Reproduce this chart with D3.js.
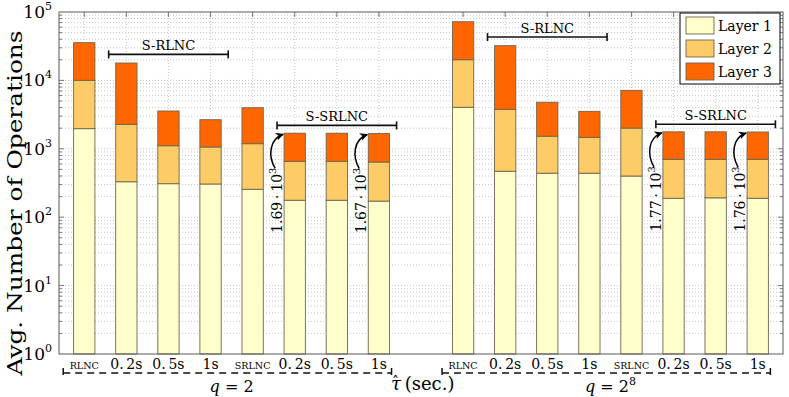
<!DOCTYPE html>
<html>
<head>
<meta charset="utf-8">
<script src="https://cdn.jsdelivr.net/npm/d3@7"></script>
<style>
  body { margin: 0; background: #fff; }
</style>
</head>
<body>
<div id="content"></div>
<script>
// x tick labels, same for both field sizes
const categories = ["RLNC", "0.2s", "0.5s", "1s", "SRLNC", "0.2s", "0.5s", "1s"];
const groupNames = ["2", "2^8"];
const layerNames = ["Layer 1", "Layer 2", "Layer 3"];
const layerColors = ["#ffffcc", "#fecc66", "#ff6600"];

// avg number of operations per layer, q = 2
const layer1_q2 = [1970, 330, 309, 306, 256, 177, 177, 172];
const layer2_q2 = [8060, 1950, 800, 757, 932, 479, 479, 469];
const layer3_q2 = [25600, 15680, 2460, 1600, 2800, 1034, 1034, 1029];

// avg number of operations per layer, q = 2^8
const layer1_q28 = [4050, 470, 440, 440, 400, 189, 192, 189];
const layer2_q28 = [16000, 3300, 1090, 1030, 1610, 513, 510, 513];
const layer3_q28 = [52000, 28400, 3260, 2060, 5150, 1068, 1068, 1058];

const yTickExps = [0, 1, 2, 3, 4, 5];

// bars that get a "x.xx·10^3" note (index into categories)
const notedBars = [5, 7];

const FONT = "'DejaVu Serif', serif";

window.onload = function() {
  drawChart();
};

function drawChart() {
  let width = 789, height = 397;
  let svg = d3.select("#content").append("svg")
    .attr("width", width)
    .attr("height", height)
    .attr("font-family", FONT)
    .style("font-family", FONT);

  let left = 59, right = 783, top = 12, bottom = 354;
  let x = d3.scaleLinear().domain([0.4, 17.6]).range([left, right]);
  let y = d3.scaleLog().domain([1, 1e5]).range([bottom, top]);
  let hw = 0.253; // half bar width in slot units

  let groups = [
    [layer1_q2, layer2_q2, layer3_q2],
    [layer1_q28, layer2_q28, layer3_q28]
  ];
  // slot position of each bar (one empty slot between the groups)
  function pos(g, i) { return g * 9 + i + 1; }
  let positions = [];
  groups.forEach((_, g) => categories.forEach((c, i) => positions.push(pos(g, i))));

  // grid
  let grid = svg.append("g");
  let minorVals = [];
  for (let d = 0; d < 5; d++) {
    for (let m = 1; m < 10; m++) {
      let v = m * Math.pow(10, d);
      if (v > 1) minorVals.push(v);
    }
  }
  grid.selectAll("line.h").data(minorVals).enter().append("line")
    .attr("x1", left).attr("x2", right)
    .attr("y1", d => y(d)).attr("y2", d => y(d))
    .style("stroke", "#b8b8b8").style("stroke-width", 0.8)
    .style("stroke-dasharray", "1,2");
  grid.selectAll("line.v").data(positions).enter().append("line")
    .attr("x1", d => x(d)).attr("x2", d => x(d))
    .attr("y1", top).attr("y2", bottom)
    .style("stroke", "#b8b8b8").style("stroke-width", 0.8)
    .style("stroke-dasharray", "1,2");

  // stacked bars
  let bars = svg.append("g");
  groups.forEach(function(layers, g) {
    categories.forEach(function(c, i) {
      let base = 1;
      layers.forEach(function(layer, k) {
        let topVal = (k == 0 ? 0 : base) + layer[i];
        bars.append("rect")
          .attr("x", x(pos(g, i) - hw))
          .attr("width", x(pos(g, i) + hw) - x(pos(g, i) - hw))
          .attr("y", y(topVal))
          .attr("height", y(base) - y(topVal))
          .style("fill", layerColors[k])
          .style("stroke", "#6e6550")
          .style("stroke-width", 0.9);
        base = topVal;
      });
    });
  });

  // axis box and ticks
  let ax = svg.append("g").style("stroke", "#5a5a5a");
  ax.append("rect")
    .attr("x", left).attr("y", top)
    .attr("width", right - left).attr("height", bottom - top)
    .style("fill", "none").style("stroke-width", 1);
  minorVals.forEach(function(v) {
    let major = Math.abs(Math.log10(v) - Math.round(Math.log10(v))) < 1e-9;
    let len = major ? 5 : 3;
    ax.append("line").attr("x1", left).attr("x2", left + len)
      .attr("y1", y(v)).attr("y2", y(v)).style("stroke-width", 0.8);
    ax.append("line").attr("x1", right).attr("x2", right - len)
      .attr("y1", y(v)).attr("y2", y(v)).style("stroke-width", 0.8);
  });
  positions.forEach(function(p) {
    ax.append("line").attr("x1", x(p)).attr("x2", x(p))
      .attr("y1", top).attr("y2", top + 5).style("stroke-width", 0.8);
  });

  // y tick labels
  yTickExps.forEach(function(e) {
    let t = svg.append("text")
      .attr("x", 52).attr("y", y(Math.pow(10, e)) + 6)
      .attr("text-anchor", "end")
      .style("font-size", "17px");
    t.append("tspan").text("10");
    t.append("tspan").attr("dy", -8).style("font-size", "11px").text(e);
  });

  // y label
  svg.append("text")
    .attr("transform", "translate(22," + ((top + bottom) / 2 + 20) + ") rotate(-90)")
    .attr("text-anchor", "middle")
    .attr("textLength", 345)
    .attr("lengthAdjust", "spacingAndGlyphs")
    .style("font-size", "21px")
    .text("Avg. Number of Operations");

  // x tick labels
  groups.forEach(function(layers, g) {
    categories.forEach(function(c, i) {
      let small = c.indexOf("RLNC") >= 0;
      svg.append("text")
        .attr("x", x(pos(g, i)))
        .attr("y", 369)
        .attr("text-anchor", "middle")
        .style("font-size", small ? "9.5px" : "14px")
        .text(small ? c : c.replace(".", ".\u2009"));
    });

    // dashed group line
    let x1 = x(pos(g, 0) - 0.5), x2 = x(pos(g, 7) + 0.3), ly = 373;
    svg.append("line").attr("x1", x1).attr("x2", x2).attr("y1", ly).attr("y2", ly)
      .style("stroke", "#111").style("stroke-width", 1.5)
      .style("stroke-dasharray", "7,5");
    [x1, x2].forEach(function(xx) {
      svg.append("line").attr("x1", xx).attr("x2", xx).attr("y1", ly - 5).attr("y2", ly + 2)
        .style("stroke", "#111").style("stroke-width", 1.5);
    });

    // q label
    let q = svg.append("text")
      .attr("x", x((pos(g, 0) + pos(g, 7)) / 2))
      .attr("y", 392)
      .attr("text-anchor", "middle")
      .style("font-size", "16px");
    q.append("tspan").style("font-style", "italic").text("q");
    let parts = groupNames[g].split("^");
    q.append("tspan").text(" = " + parts[0]);
    if (parts[1]) q.append("tspan").attr("dy", -7).style("font-size", "11px").text(parts[1]);
  });

  // x axis title: tau with a hat, then (sec.)
  let xt = svg.append("text")
    .attr("x", x(9) - 30).attr("y", 390)
    .style("font-size", "18px");
  xt.append("tspan").style("font-style", "italic").text("\u03c4");
  xt.append("tspan").attr("dx", -9).attr("dy", -3).style("font-size", "14px").text("\u02c6");
  xt.append("tspan").attr("dy", 3).text(" (sec.)");

  // S-RLNC / S-SRLNC brackets
  let brackets = [
    {label: "S-RLNC", g: 0, from: 1, to: 3, v: 24000},
    {label: "S-SRLNC", g: 0, from: 5, to: 7, v: 2200},
    {label: "S-RLNC", g: 1, from: 1, to: 3, v: 43000},
    {label: "S-SRLNC", g: 1, from: 5, to: 7, v: 2280}
  ];
  brackets.forEach(function(b) {
    let bx1 = x(pos(b.g, b.from) - 0.42), bx2 = x(pos(b.g, b.to) + 0.42), by = y(b.v);
    svg.append("line").attr("x1", bx1).attr("x2", bx2).attr("y1", by).attr("y2", by)
      .style("stroke", "#111").style("stroke-width", 1.6);
    [bx1, bx2].forEach(function(xx) {
      svg.append("line").attr("x1", xx).attr("x2", xx).attr("y1", by - 4).attr("y2", by + 4)
        .style("stroke", "#111").style("stroke-width", 1.6);
    });
    svg.append("text")
      .attr("x", (bx1 + bx2) / 2).attr("y", by - 4.5)
      .attr("text-anchor", "middle")
      .style("font-size", "13px")
      .text(b.label);
  });

  // curved arrows with totals
  svg.append("defs").append("marker")
    .attr("id", "tip")
    .attr("viewBox", "0 0 10 10")
    .attr("refX", 9).attr("refY", 5)
    .attr("markerWidth", 8).attr("markerHeight", 8)
    .attr("markerUnits", "userSpaceOnUse")
    .attr("orient", "auto")
    .append("path")
    .attr("d", "M0,0 L10,5 L0,10 L3,5 Z")
    .style("fill", "#000");

  groups.forEach(function(layers, g) {
    notedBars.forEach(function(i) {
      let total = layers[0][i] + layers[1][i] + layers[2][i];
      let tx = x(pos(g, i) - hw), ty = y(total);
      let sx = tx - 9, sy = ty + 35;
      svg.append("path")
        .attr("d", "M" + sx + "," + sy + " C" + (sx - 7) + "," + (sy - 12) + " " +
          (sx - 6) + "," + (ty + 6) + " " + (tx - 1) + "," + (ty + 1))
        .style("fill", "none").style("stroke", "#000").style("stroke-width", 1.5)
        .attr("marker-end", "url(#tip)");
      let t = svg.append("text")
        .attr("transform", "translate(" + (tx - 2) + "," + (ty + 67) + ") rotate(-90)")
        .attr("text-anchor", "middle")
        .style("font-size", "14px");
      t.append("tspan").text((total / 1000).toFixed(2) + "\u2009\u00b7\u200910");
      t.append("tspan").attr("dy", -6).style("font-size", "10px").text("3");
    });
  });

  // legend
  let lg = svg.append("g").attr("transform", "translate(680,13)");
  lg.append("rect").attr("width", 100).attr("height", 71)
    .style("fill", "#fff").style("stroke", "#000").style("stroke-width", 1);
  layerNames.forEach(function(name, k) {
    let cy = 12.5 + k * 23;
    lg.append("rect").attr("x", 6).attr("y", cy - 8.5).attr("width", 28).attr("height", 17)
      .style("fill", layerColors[k]).style("stroke", "#6e6550").style("stroke-width", 0.9);
    lg.append("text").attr("x", 38).attr("y", cy + 5)
      .style("font-size", "14px")
      .text(name);
  });
}
</script>
</body>
</html>
